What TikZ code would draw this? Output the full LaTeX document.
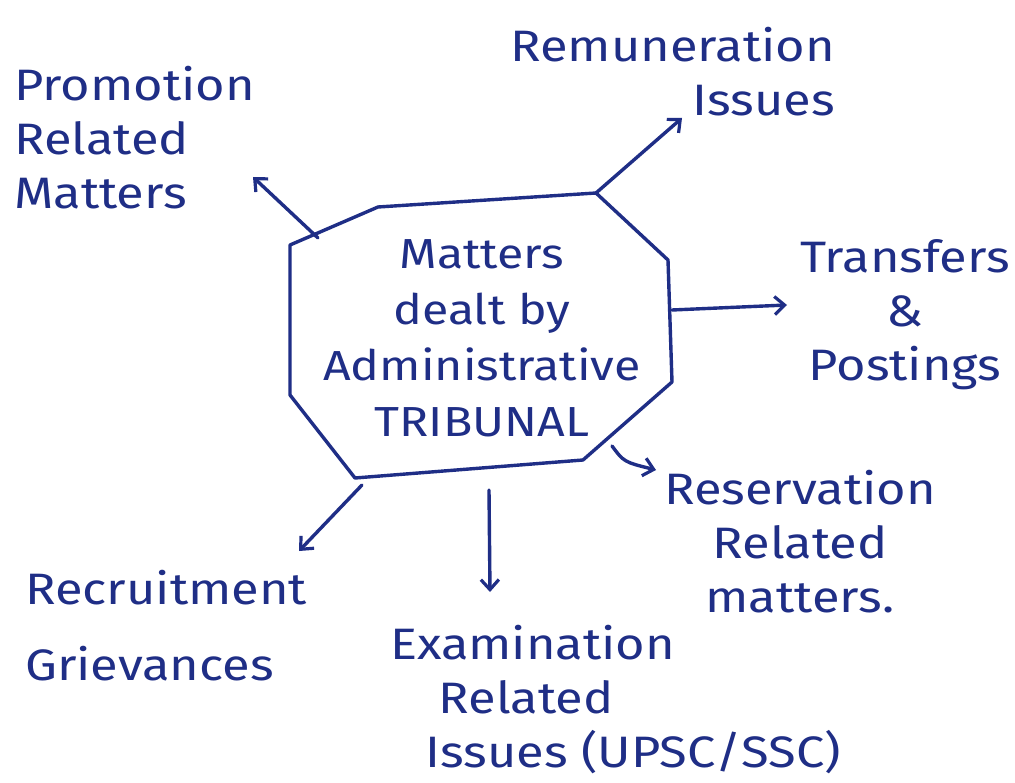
\documentclass[tikz,border=0pt]{standalone}
\usepackage{fontspec}
\setmainfont[FakeStretch=1.15]{Fira Sans}
\usetikzlibrary{arrows.meta}
\definecolor{ink}{HTML}{1F2E86}
\begin{document}
\begin{tikzpicture}[x=1pt,y=-1pt,
  pen/.style={draw=ink,line width=3.4pt,line cap=round,line join=round},
  link/.style={pen,-{Straight Barb[length=10pt,width=18pt,line width=3.2pt]}},
  label/.style={text=ink,font=\fontsize{44}{54}\selectfont,inner sep=0pt}]
\useasboundingbox[fill=white] (0,0) rectangle (1015,783);

% irregular octagon around the central topic
\coordinate (o1) at (290,245);
\coordinate (o2) at (378,207);
\coordinate (o3) at (596,193);
\coordinate (o4) at (668,260);
\coordinate (o5) at (672,382);
\coordinate (o6) at (583,460);
\coordinate (o7) at (355,478);
\coordinate (o8) at (290,395);
\draw[pen] (o1) -- (o2) -- (o3) -- (o4) -- (o5) -- (o6) -- (o7) -- (o8) -- cycle;

\node[label,align=center,font=\fontsize{42}{56}\selectfont] (core) at (482,338)
  {Matters\\dealt by\\Administrative\\TRIBUNAL};

% topics around it
\node[label,align=left,anchor=north west] (promo) at (14,66)
  {Promotion\\Related\\Matters};
\node[label,align=right,anchor=north east] (remun) at (835,27)
  {Remuneration\\Issues};
\node[label,align=center] (trans) at (905,315)
  {Transfers\\\&\\Postings};
\node[label,align=center] (reserv) at (800,542)
  {Reservation\\Related\\matters.};
\node[label,align=left,anchor=north west] (exam) at (390,625)
  {Examination\\\hspace*{1.1em}Related\\\hspace*{0.8em}Issues (UPSC/SSC)};
\node[label,align=left,anchor=north west,font=\fontsize{44}{76}\selectfont] (recr) at (25,570)
  {Recruitment\\Grievances};

% arrow ends
\coordinate (sPromo) at (318,238);
\coordinate (ePromo) at (253,177);
\coordinate (eRemun) at (682,118);
\coordinate (sTrans) at (672,310);
\coordinate (eTrans) at (787,305);
\coordinate (sRes) at (612,446);
\coordinate (eRes) at (656,470);
\coordinate (sExam) at (489,490);
\coordinate (eExam) at (490,592);
\coordinate (sRecr) at (362,485);
\coordinate (eRecr) at (299,551);

\draw[link] (sPromo) -- (ePromo);
\draw[link] (o3) -- (eRemun);
\draw[link] (sTrans) -- (eTrans);
\draw[link] (sRes) .. controls (624,462) .. (eRes);
\draw[link] (sExam) -- (eExam);
\draw[link] (sRecr) -- (eRecr);
\end{tikzpicture}
\end{document}
